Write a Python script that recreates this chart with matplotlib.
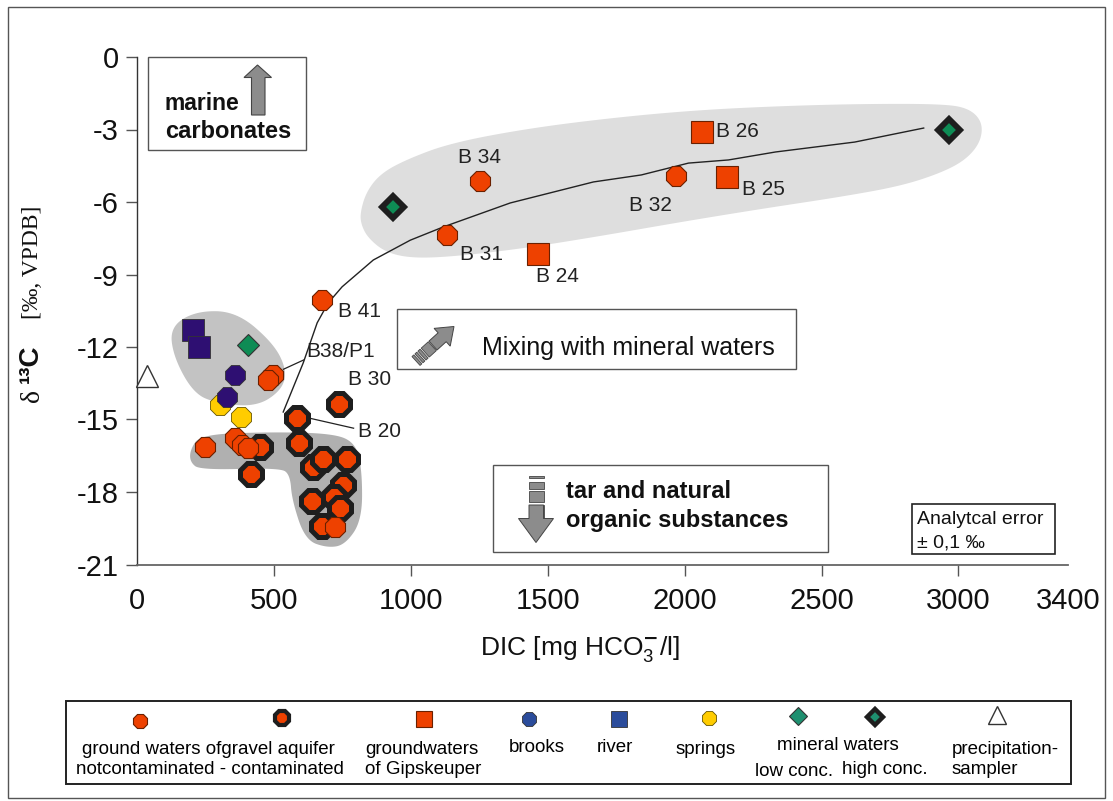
import numpy as np
import matplotlib
matplotlib.use('Agg')
import matplotlib.pyplot as plt
from matplotlib.patches import Polygon, Rectangle

# ---------------- data ----------------
gw_uncont_x = [677, 496, 480, 249, 358, 383, 407, 724, 1254, 1133, 1970]
gw_uncont_y = [-10.05, -13.16, -13.36, -16.12, -15.78, -16.05, -16.19, -19.46, -5.13, -7.36, -4.92]

gw_cont_x = [584, 739, 450, 417, 593, 644, 681, 766, 752, 718, 638, 740, 675]
gw_cont_y = [-14.95, -14.37, -16.12, -17.27, -15.96, -16.95, -16.65, -16.65, -17.71, -18.19, -18.37, -18.67, -19.40]

gips_x = [1466, 2065, 2156]
gips_y = [-8.15, -3.10, -4.96]

brooks_x = [358, 328]
brooks_y = [-13.16, -14.05]

river_x = [206, 228]
river_y = [-11.30, -11.98]

springs_x = [303, 380]
springs_y = [-14.40, -14.88]

mineral_low_x = [407]
mineral_low_y = [-11.90]

mineral_high_x = [936, 2964]
mineral_high_y = [-6.20, -3.02]

precip_x = [35]
precip_y = [-13.2]

mixing_x = [534, 607, 658, 698, 749, 863, 998, 1119, 1363, 1667, 1842, 2014, 2160, 2332, 2621, 2873]
mixing_y = [-14.69, -12.66, -11.00, -10.18, -9.51, -8.40, -7.58, -7.03, -6.04, -5.17, -4.88, -4.39, -4.26, -3.93, -3.52, -2.94]

point_labels = ["B 41", "B38/P1", "B 30", "B 20", "B 34", "B 31", "B 24", "B 32", "B 26", "B 25"]
label_x = [735, 618, 771, 808, 1173, 1181, 1458, 1795, 2116, 2211]
label_y = [-10.55, -12.2, -13.36, -15.5, -4.14, -8.19, -9.1, -6.16, -3.1, -5.5]

x_ticks = [0, 500, 1000, 1500, 2000, 2500, 3000, 3400]
y_ticks = [0, -3, -6, -9, -12, -15, -18, -21]

# shaded regions (outlines, data units)
upper_region_x = [815, 837, 888, 980, 1144, 1436, 1765, 2058, 2350, 2643, 2935, 3037, 3088, 3081, 3026,
                  2935, 2789, 2569, 2277, 1985, 1692, 1400, 1144, 998, 906, 844, 819]
upper_region_y = [-6.45, -5.59, -4.84, -4.26, -3.56, -2.94, -2.48, -2.19, -2.03, -1.94, -1.94, -2.11, -2.69,
                  -3.52, -4.26, -4.80, -5.34, -5.79, -6.29, -6.83, -7.41, -7.94, -8.27, -8.32, -8.07, -7.49, -6.95]
left_region_x = [121, 218, 364, 498, 547, 529, 437, 291, 206, 133]
left_region_y = [-11.16, -10.50, -10.54, -11.84, -12.95, -13.78, -14.47, -14.33, -13.91, -12.40]
bottom_region_x = [194, 230, 450, 705, 797, 822, 822, 760, 694, 614, 566, 559, 523, 230, 194]
bottom_region_y = [-16.26, -15.64, -15.52, -15.56, -15.93, -17.09, -19.16, -20.19, -20.31, -19.98,
                   -18.33, -17.29, -17.00, -17.09, -16.76]

# ---------------- style ----------------
ORANGE = '#EE4100'
NAVY = '#2E0F72'
BLUE = '#2B4C9B'
YELLOW = '#FFCC00'
GREEN = '#0E8C55'
LGREEN = '#1E9070'
SANS = ['Liberation Sans', 'DejaVu Sans']
SERIF = ['Liberation Serif', 'DejaVu Serif']
plt.rcParams['font.family'] = SANS

W, H = 1113, 801
fig = plt.figure(figsize=(W / 100, H / 100), dpi=100)
ax = fig.add_axes([137 / W, 1 - 564.5 / H, (1068 - 137) / W, (564.5 - 57) / H])
ax.set_xlim(0, 3400)
ax.set_ylim(-21, 0)
for s in ['top', 'right']:
    ax.spines[s].set_visible(False)
ax.spines['left'].set_color('#333333')
ax.spines['bottom'].set_color('#666666')
ax.spines['left'].set_linewidth(1.0)
ax.spines['bottom'].set_linewidth(1.3)
ax.set_xticks(x_ticks)
ax.set_yticks(y_ticks)
ax.set_xticklabels([str(v) for v in x_ticks])
ax.set_yticklabels([str(v) for v in y_ticks])
ax.tick_params(axis='both', direction='out', length=8, width=1, colors='#555555',
               labelcolor='#111111', labelsize=21)
ax.tick_params(axis='x', pad=8)
ax.tick_params(axis='y', pad=5)
ax.xaxis.get_major_ticks()[-1].tick1line.set_visible(False)
ax.xaxis.get_major_ticks()[0].tick1line.set_visible(False)


def chaikin(xs, ys, n=4):
    pts = np.column_stack([xs, ys]).astype(float)
    for _ in range(n):
        p1 = np.roll(pts, -1, axis=0)
        q = 0.75 * pts + 0.25 * p1
        r = 0.25 * pts + 0.75 * p1
        new = np.empty((2 * len(pts), 2))
        new[0::2] = q
        new[1::2] = r
        pts = new
    return pts


ax.add_patch(Polygon(chaikin(upper_region_x, upper_region_y), closed=True, fc='#DEDEDE', ec='none', zorder=0.5))
ax.add_patch(Polygon(chaikin(left_region_x, left_region_y), closed=True, fc='#C3C3C3', ec='none', zorder=0.6))
ax.add_patch(Polygon(chaikin(bottom_region_x, bottom_region_y), closed=True, fc='#B0B0B0', ec='none', zorder=0.6))

# mixing line
ax.plot(mixing_x, mixing_y, color='#222222', lw=1.0, zorder=2)
# leader lines
ax.plot([535, 608], [-12.92, -12.54], color='#222222', lw=0.9, zorder=2)
ax.plot([632, 791], [-14.95, -15.36], color='#222222', lw=0.9, zorder=2)

# styles
st_uncont = dict(marker='8', ms=15.5, mfc=ORANGE, mec='#6a2000', mew=0.8, ls='none')
st_cont = dict(marker='8', ms=16.5, mfc=ORANGE, mec='#1e1e1e', mew=3.6, ls='none')
st_gips = dict(marker='s', ms=15.5, mfc=ORANGE, mec='#6a2000', mew=0.8, ls='none')
st_brooks = dict(marker='8', ms=15.5, mfc=NAVY, mec='#333333', mew=0.6, ls='none')
st_river = dict(marker='s', ms=16, mfc=NAVY, mec='#333333', mew=0.6, ls='none')
st_springs = dict(marker='8', ms=15.5, mfc=YELLOW, mec='#665500', mew=0.6, ls='none')
st_low = dict(marker='D', ms=11.5, mfc=GREEN, mec='#333333', mew=0.8, ls='none')
st_high = dict(marker='D', ms=11.5, mfc=GREEN, mec='#1e1e1e', mew=4.2, ls='none')
st_precip = dict(marker='^', ms=16, mfc='white', mec='#333333', mew=1.0, ls='none')

ax.plot(precip_x, precip_y, zorder=3, clip_on=False, **st_precip)
ax.plot(river_x, river_y, zorder=3, **st_river)
ax.plot(mineral_low_x, mineral_low_y, zorder=3, **st_low)
ax.plot(springs_x, springs_y, zorder=3, **st_springs)
ax.plot(brooks_x, brooks_y, zorder=3.1, **st_brooks)
ax.plot(gw_cont_x, gw_cont_y, zorder=3, **st_cont)
ax.plot(gw_uncont_x, gw_uncont_y, zorder=3.2, **st_uncont)
ax.plot(gips_x, gips_y, zorder=3.2, **st_gips)
ax.plot(mineral_high_x, mineral_high_y, zorder=3.2, clip_on=False, **st_high)

for t, x, y in zip(point_labels, label_x, label_y):
    ax.text(x, y, t, fontsize=15, color='#222222', ha='left', va='center', zorder=4)

# ---------------- overlay (pixel coordinates) ----------------
ov = fig.add_axes([0, 0, 1, 1], zorder=5)
ov.set_xlim(0, W)
ov.set_ylim(H, 0)
ov.axis('off')
ov.patch.set_alpha(0)

# outer frame
ov.add_patch(Rectangle((8, 7), 1097, 791, fill=False, ec='#555555', lw=1.0))

# axis labels
ov.text(580, 650, r'DIC [mg HCO$_\mathregular{3}^{\mathbf{-}}$/l]', fontsize=19, ha='center', va='center',
        color='#111111')
ov.text(33, 396, 'δ', rotation=90, fontfamily=SERIF, fontsize=20, ha='center', va='center', color='#111111')
ov.text(31, 364, '¹³C', rotation=90, fontweight='bold', fontsize=20, ha='center', va='center', color='#111111')
ov.text(33, 262, '[‰, VPDB]', rotation=90, fontfamily=SERIF, fontsize=17, ha='center', va='center',
        color='#111111')

GRAYA = '#8C8C8C'

# marine carbonates box
ov.add_patch(Rectangle((148, 56.5), 158, 93.5, fc='white', ec='#555555', lw=1.0))
ov.text(165, 103, 'marine', fontsize=16.5, fontweight='bold', ha='left', va='center', color='#111111')
ov.text(165, 132, 'carbonates', fontsize=17, fontweight='bold', ha='left', va='center', color='#111111')
ov.add_patch(Polygon([(251.5, 115), (251.5, 77.5), (244, 77.5), (257.5, 65), (271.5, 77.5), (265, 77.5),
                      (265, 115)], closed=True, fc=GRAYA, ec='#444444', lw=0.8))

# mixing box
ov.add_patch(Rectangle((397, 308.5), 399, 60, fc='white', ec='#555555', lw=1.0))
ov.text(482, 348, 'Mixing with mineral waters', fontsize=18, ha='left', va='center', color='#111111')
tail = np.array([416.0, 361.0])
tip = np.array([454.0, 326.5])
d = (tip - tail) / np.linalg.norm(tip - tail)
nrm = np.array([-d[1], d[0]])
L = np.linalg.norm(tip - tail)


def seg(s0, s1, hw):
    a = tail + d * s0
    b = tail + d * s1
    return [a + nrm * hw, b + nrm * hw, b - nrm * hw, a - nrm * hw]


for s0, s1 in [(0, 2.5), (4, 6.5), (8, 11), (12.5, 22)]:
    ov.add_patch(Polygon(seg(s0, s1, 6), closed=True, fc=GRAYA, ec='#444444', lw=0.6))
hb = tail + d * (L - 16)
ov.add_patch(Polygon([tail + d * 23 + nrm * 6, hb + nrm * 6, hb + nrm * 12, tip, hb - nrm * 12,
                      hb - nrm * 6, tail + d * 23 - nrm * 6], closed=True, fc=GRAYA, ec='#444444', lw=0.7))

# tar box
ov.add_patch(Rectangle((493, 465), 335, 86.5, fc='white', ec='#555555', lw=1.0))
ov.text(566, 492, 'tar and natural', fontsize=17, fontweight='bold', ha='left', va='center', color='#111111')
ov.text(566, 520, 'organic substances', fontsize=17, fontweight='bold', ha='left', va='center',
        color='#111111')
for y0, y1 in [(475.5, 477.5), (481.5, 488.5), (490.5, 502), (505, 518.5)]:
    ov.add_patch(Rectangle((529, y0), 14.5, y1 - y0, fc=GRAYA, ec='#444444', lw=0.6))
ov.add_patch(Polygon([(529, 505), (529, 518.5), (518.5, 518.5), (536, 542.5), (553.5, 518.5), (543.5, 518.5),
                      (543.5, 505)], closed=True, fc=GRAYA, ec='#444444', lw=0.7))

# analytical error box
ov.add_patch(Rectangle((912, 503.5), 143, 50.5, fc='white', ec='#222222', lw=1.2))
ov.text(917, 520, 'Analytcal error', fontsize=14, ha='left', va='center', color='#111111')
ov.text(917, 543, '± 0,1 ‰', fontsize=14, ha='left', va='center', color='#111111')

# ---------------- legend ----------------
ov.add_patch(Rectangle((66, 701), 1005, 83, fill=False, ec='#222222', lw=1.4))
LG = 13.5
def lmark(x, y, **kw):
    ov.plot([x], [y], **kw)

lmark(140, 721, **dict(st_uncont, ms=11.5))
lmark(282, 718, **dict(st_cont, ms=11, mew=3.0))
lmark(424, 719, **dict(st_gips, ms=11.5))
lmark(529, 719, **dict(st_brooks, ms=11.5, mfc=BLUE))
lmark(619, 719, **dict(st_river, ms=11.5, mfc=BLUE))
lmark(709, 718, **dict(st_springs, ms=11.5))
lmark(798, 716, **dict(st_low, ms=9, mfc=LGREEN))
lmark(875, 717, **dict(st_high, ms=8.5, mfc=LGREEN, mew=3.2))
lmark(997, 715, **dict(st_precip, ms=13))

ov.text(208, 749, 'ground waters ofgravel aquifer', fontsize=LG, ha='center', va='center')
ov.text(210, 770, 'notcontaminated - contaminated', fontsize=LG, ha='center', va='center')
ov.text(365, 749, 'groundwaters', fontsize=LG, ha='left', va='center')
ov.text(365, 770, 'of Gipskeuper', fontsize=LG, ha='left', va='center')
ov.text(537, 747, 'brooks', fontsize=LG, ha='center', va='center')
ov.text(615, 747, 'river', fontsize=LG, ha='center', va='center')
ov.text(706, 749, 'springs', fontsize=LG, ha='center', va='center')
ov.text(838, 746, 'mineral waters', fontsize=LG, ha='center', va='center')
ov.text(794, 771, 'low conc.', fontsize=LG, ha='center', va='center')
ov.text(885, 769, 'high conc.', fontsize=LG, ha='center', va='center')
ov.text(952, 749, 'precipitation-', fontsize=LG, ha='left', va='center')
ov.text(952, 770, 'sampler', fontsize=LG, ha='left', va='center')

fig.savefig('out.png', dpi=100)
